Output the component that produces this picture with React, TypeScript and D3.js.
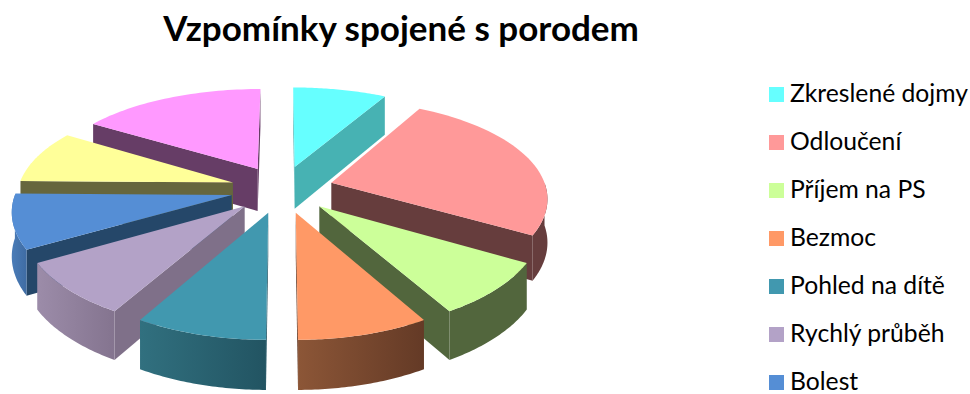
import React from "react";
import * as d3 from "d3";

// Share of each slice, clockwise from twelve o'clock.
const sliceValues = [8.1, 25.2, 8.3, 8.3, 8.3, 8.3, 8.6, 8.6, 16.1];
const legendLabels = ["Zkreslené dojmy", "Odloučení", "Příjem na PS", "Bezmoc", "Pohled na dítě", "Rychlý průběh", "Bolest"];
const topColors = ["#66ffff", "#ff9999", "#ccff99", "#ff9966", "#4198af", "#b3a2c7", "#558ed5", "#ffff99", "#ff99ff"];
const cutColors = ["#47b2b3", "#663d3d", "#52663d", "#663d29", "#285a69", "#7f7089", "#254769", "#66663d", "#663d66"];
const wallLeft = ["#47b2b3", "#663d3d", "#52663d", "#8c5637", "#31707f", "#9c8ca9", "#4a7cb8", "#66663d", "#663d66"];
const wallRight = ["#47b2b3", "#663d3d", "#52663d", "#643a26", "#225462", "#84748f", "#3f6ca3", "#66663d", "#663d66"];
const chartTitle = "Vzpomínky spojené s porodem";

const CX = 282;
const CY = 189;
const RX = 215;
const RY = 98.5;
const CAMERA = 6.3;
const EXPLODE = 0.24;
const THICKNESS = 43;

type Pt = [number, number];

// Perspective projection of a point on the pie's top plane; the horizontal
// spread narrows a little less with depth than the vertical one.
function project(x: number, z: number): Pt {
  const s = CAMERA / (CAMERA - z);
  return [CX + RX * x * Math.pow(s, 0.85), CY + RY * z * s];
}
const extrude = (x: number, z: number): number => THICKNESS * Math.pow(CAMERA / (CAMERA - z), 0.7);

const order = [8, 0, 1, 7, 6, 2, 5, 3, 4];
const pieArcs = d3.pie<number>().sort(null).startAngle(0).endAngle(2 * Math.PI)(sliceValues);
const line = d3.line();

function buildSlice(i: number) {
  const arc = pieArcs[i];
  const mid = (arc.startAngle + arc.endAngle) / 2;
  const ox = EXPLODE * Math.sin(mid);
  const oz = -EXPLODE * Math.cos(mid);
  const rimAt = (t: number) => {
    const x = ox + Math.sin(t);
    const z = oz - Math.cos(t);
    const [px, py] = project(x, z);
    return { top: [px, py] as Pt, bottom: [px, py + extrude(x, z)] as Pt };
  };
  const sample = (a: number, b: number) => d3.range(0, 41).map((k) => rimAt(a + ((b - a) * k) / 40));
  const apexTop = project(ox, oz);
  const apexBottom: Pt = [apexTop[0], apexTop[1] + extrude(ox, oz)];
  const rim = sample(arc.startAngle, arc.endAngle);
  const first = rim[0];
  const last = rim[rim.length - 1];

  const top = line([apexTop, ...rim.map((r) => r.top)]) + "Z";
  const cuts: string[] = [];
  if (first.top[0] < apexTop[0]) cuts.push(line([apexTop, first.top, first.bottom, apexBottom]) + "Z");
  if (last.top[0] > apexTop[0]) cuts.push(line([apexTop, last.top, last.bottom, apexBottom]) + "Z");

  // The outer wall only shows on the half of the rim facing the viewer.
  const a = Math.max(arc.startAngle, Math.PI / 2);
  const b = Math.min(arc.endAngle, (3 * Math.PI) / 2);
  let wall: string | null = null;
  if (b > a) {
    const w = sample(a, b);
    wall = line([...w.map((r) => r.top), ...w.map((r) => r.bottom).reverse()]) + "Z";
  }
  return { top, cuts, wall };
}

export default function App() {
  const legendY = d3.scaleLinear().domain([0, 1]).range([94, 142]);
  return (
    <svg width={970} height={394} style={{ position: "absolute", left: 0, top: 0, background: "#fff" }}>
      <defs>
        {sliceValues.map((_, i) => (
          <linearGradient key={i} id={`wall-${i}`} x1="0" y1="0" x2="1" y2="0">
            <stop offset="0" stopColor={wallLeft[i]} />
            <stop offset="1" stopColor={wallRight[i]} />
          </linearGradient>
        ))}
      </defs>
      <text x={401} y={41} textAnchor="middle" fontFamily="Lato" fontWeight={700} fontSize={35} fill="#000">
        {chartTitle}
      </text>
      {order.map((i) => {
        const s = buildSlice(i);
        return (
          <g key={i}>
            {s.cuts.map((d, k) => (
              <path key={k} d={d} fill={cutColors[i]} />
            ))}
            {s.wall && <path d={s.wall} fill={`url(#wall-${i})`} />}
            <path d={s.top} fill={topColors[i]} />
          </g>
        );
      })}
      {legendLabels.map((label, i) => (
        <g key={label}>
          <rect x={769} y={legendY(i) - 7} width={15} height={15} fill={topColors[i]} />
          <text x={790} y={legendY(i) + 8} fontFamily="Lato" fontSize={24.7} fill="#000">
            {label}
          </text>
        </g>
      ))}
    </svg>
  );
}
